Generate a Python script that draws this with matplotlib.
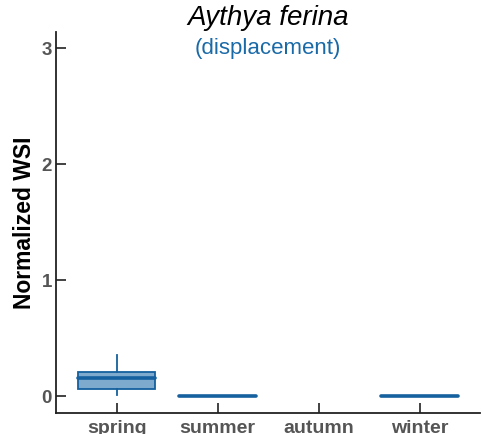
import matplotlib.pyplot as plt
import numpy as np

plt.rcParams["font.family"] = ["Liberation Sans", "DejaVu Sans"]

seasons = ["spring", "summer", "autumn", "winter"]
# box stats per season: whisker low, Q1, median, Q3, whisker high (None = no data)
whislo = [0.01, 0.0, None, 0.0]
q1 = [0.06, 0.0, None, 0.0]
med = [0.155, 0.0, None, 0.0]
q3 = [0.21, 0.0, None, 0.0]
whishi = [0.355, 0.0, None, 0.0]
yticks = [0, 1, 2, 3]

edge = "#15609e"
fill = "#7eaacd"
tickgray = "#555555"

fig = plt.figure(figsize=(4.83, 4.34), dpi=100)
ax = fig.add_axes([0.116, 0.048, 0.878, 0.878])

stats, pos = [], []
for i, s in enumerate(seasons):
    if med[i] is None:
        continue
    stats.append(dict(label=s, whislo=whislo[i], q1=q1[i], med=med[i],
                      q3=q3[i], whishi=whishi[i], fliers=[]))
    pos.append(i)

ax.bxp(stats, positions=pos, widths=0.76, patch_artist=True, showcaps=False,
       showfliers=False,
       boxprops=dict(facecolor=fill, edgecolor=edge, linewidth=1.3),
       medianprops=dict(color=edge, linewidth=2.6, solid_capstyle="round"),
       whiskerprops=dict(color=edge, linewidth=1.3))

ax.set_xlim(-0.6, 3.6)
ax.set_ylim(-0.147, 3.14)
ax.set_xticks(range(len(seasons)))
ax.set_xticklabels(seasons)
ax.set_yticks(yticks)
for s in ["top", "right"]:
    ax.spines[s].set_visible(False)
for s in ["left", "bottom"]:
    ax.spines[s].set_linewidth(1.3)
    ax.spines[s].set_color("#222222")
ax.tick_params(direction="in", length=7, width=1.3, color="#333333",
               labelcolor=tickgray, pad=3)
ax.tick_params(axis="x", labelsize=14, pad=5)
ax.tick_params(axis="y", labelsize=13.5)
for lab in ax.get_xticklabels() + ax.get_yticklabels():
    lab.set_fontweight("bold")
ax.set_ylabel("Normalized WSI", fontsize=16.5, fontweight="bold", labelpad=4)

fig.text(0.555, 0.958, "Aythya ferina", ha="center", va="center",
         fontsize=20, style="italic")
fig.text(0.555, 0.888, "(displacement)", ha="center", va="center",
         fontsize=16, color="#1a6aa8")

fig.savefig("out.png", dpi=100)
